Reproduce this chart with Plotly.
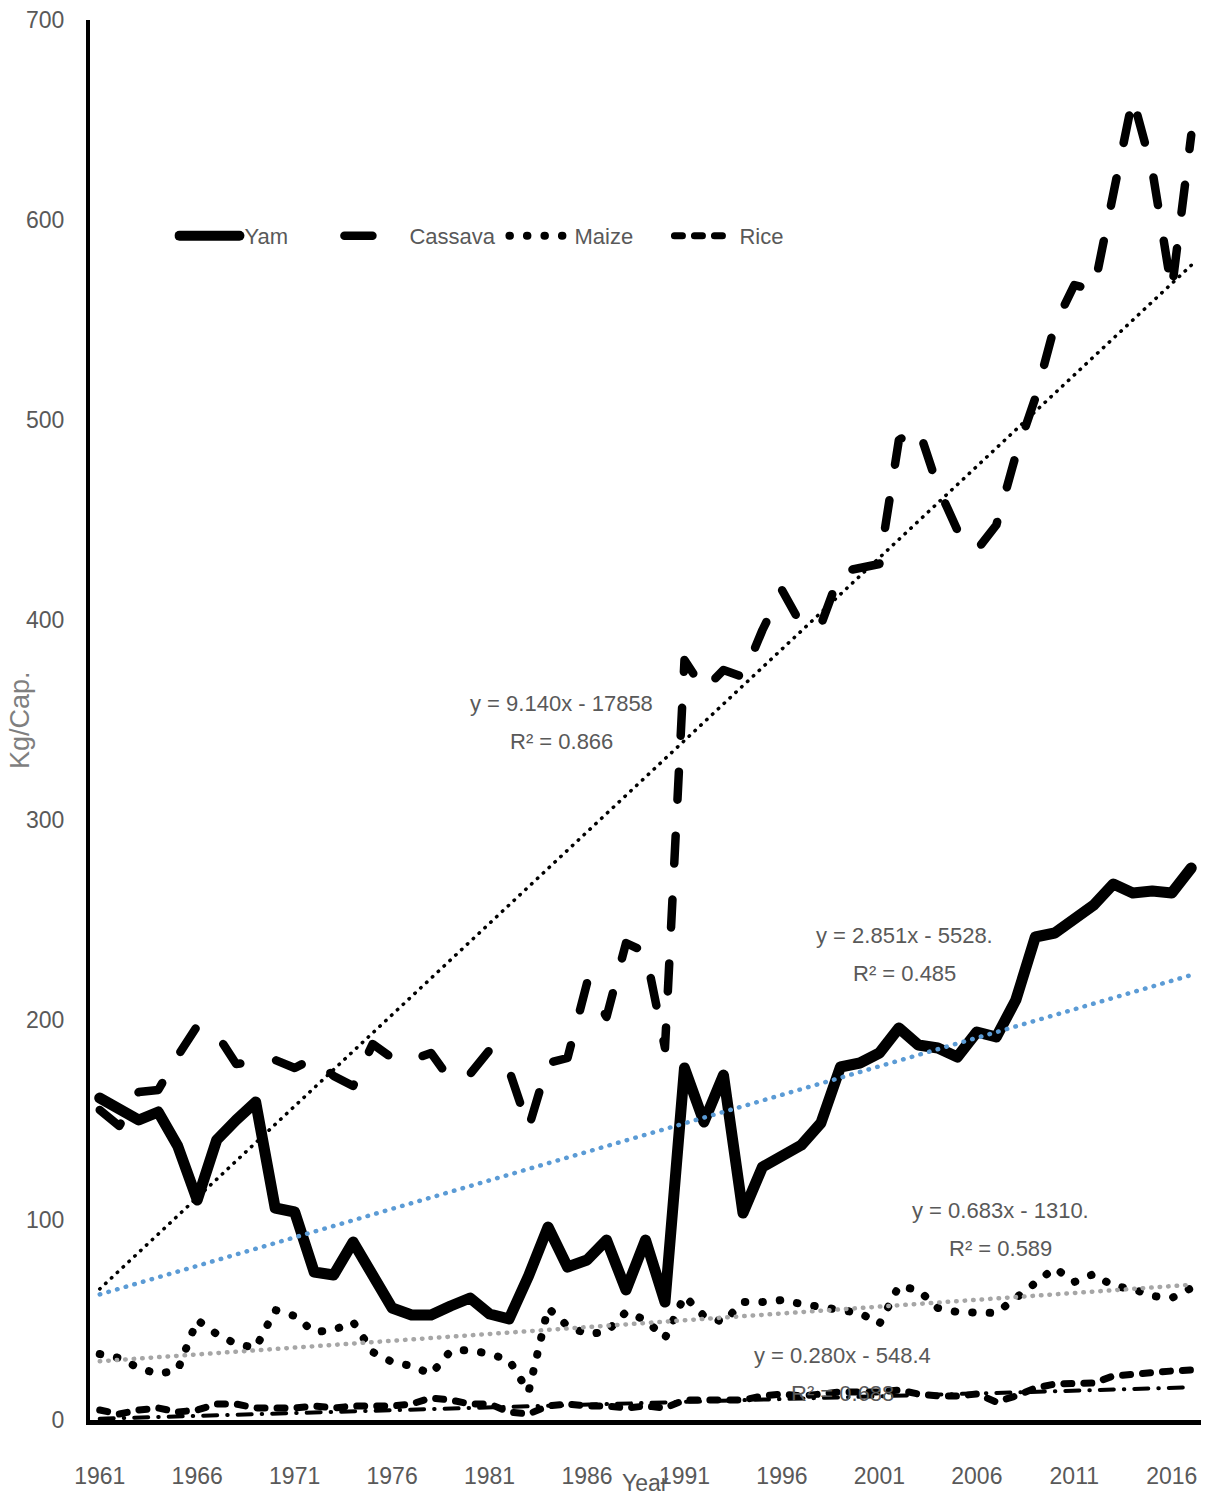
import plotly.graph_objects as go

# Per-capita production (kg/cap.) by year
years = list(range(1961, 2018))

yam = [161, 155, 150, 154, 137, 110, 140, 150, 159, 106,
       104, 74, 72.5, 89, 73, 56, 52.5, 52.5, 57, 61,
       53, 50.5, 72, 96.5, 76.5, 80, 90, 65, 90, 59,
       176, 149, 172.5, 103.5, 126.5, 132.5, 137.5, 148.5, 176.5, 178.5,
       183.5, 196, 187.5, 186, 181.5, 194, 191.5, 210, 241.5, 243.5,
       250, 257.5, 268, 263.5, 264.5, 263.5, 276]

cassava = [155, 147, 164, 165, 182, 197, 193, 178, 179, 180,
           176, 181, 172, 167, 188, 181, 180, 183.5, 170, 173,
           185, 175, 146, 178.5, 181, 218.5, 201.5, 238.5, 234, 186,
           380, 365, 375, 371.5, 395, 415, 397.5, 397.5, 424, 426,
           428, 490, 496, 466.5, 445, 435, 447.5, 482.5, 511, 547.5,
           567.5, 565, 612, 661, 625, 565, 642.5]

maize = [33, 31, 26, 23, 25, 50, 43, 38, 36, 55,
         52, 44, 45, 49, 34, 29, 27, 23, 34.5, 35,
         33, 30, 14, 56, 47, 43, 44, 54, 50, 41,
         62, 52, 49, 59, 59, 60, 58, 56.5, 55, 53.5,
         48, 67, 65, 56, 54, 53.5, 53.5, 61, 68, 76,
         69, 73, 67, 65.5, 62, 61, 66]

rice = [5, 3, 5, 6, 4, 5, 8, 8, 6, 6,
        6, 7, 6, 7, 7, 7, 8, 11, 10, 8,
        8, 4, 3, 7, 8, 7, 7, 6, 7, 6,
        10, 10, 10, 10, 12, 13, 12, 13, 14, 14,
        14, 15, 13, 12, 12, 13, 9, 12, 16, 18,
        18, 18.5, 22, 23, 23.5, 24.5, 25]

# Linear trend coefficients (y = slope * year + intercept) and fit quality
trend_names = ["Cassava", "Yam", "Maize", "Rice"]
trend_slopes = [9.140, 2.851, 0.683, 0.280]
trend_intercepts = [-17858, -5528, -1310, -548.4]
trend_labels = ["y = 9.140x - 17858", "y = 2.851x - 5528.",
                "y = 0.683x - 1310.", "y = 0.280x - 548.4"]
trend_r2_labels = ["R² = 0.866", "R² = 0.485", "R² = 0.589", "R² = 0.688"]
# label anchor (year, value) for each equation block
label_years = [1984.7, 2002.3, 2007.2, 1999.1]
label_values = [349, 233, 95.5, 23]

y_ticks = [0, 100, 200, 300, 400, 500, 600, 700]
x_ticks = list(range(1961, 2017, 5))

FONT = "Liberation Sans Narrow, Arial Narrow, Liberation Sans, sans-serif"
GREY = "#595959"

fig = go.Figure()

fig.add_trace(go.Scatter(x=years, y=yam, name="Yam", mode="lines",
                         line=dict(color="black", width=11)))
fig.add_trace(go.Scatter(x=years, y=cassava, name="Cassava", mode="lines",
                         line=dict(color="black", width=8.5, dash="28px,36px")))
fig.add_trace(go.Scatter(x=years, y=maize, name="Maize", mode="lines",
                         line=dict(color="black", width=8, dash="0.5px,17px")))
fig.add_trace(go.Scatter(x=years, y=rice, name="Rice", mode="lines",
                         line=dict(color="black", width=7, dash="8px,12px")))

trend_styles = [
    dict(color="black", width=3.5, dash="0.5px,7.5px"),
    dict(color="#5B9BD5", width=4.5, dash="0.5px,8.5px"),
    dict(color="#A6A6A6", width=4.5, dash="0.5px,8px"),
    dict(color="black", width=4, dash="14px,10px,0.5px,10px"),
]
x_span = [years[0], years[-1]]
for name, m, b, style in zip(trend_names, trend_slopes, trend_intercepts, trend_styles):
    fig.add_trace(go.Scatter(x=x_span, y=[m * x + b for x in x_span],
                             mode="lines", line=style, showlegend=False,
                             hoverinfo="skip", name=name + " trend"))

for eq, r2, lx, ly in zip(trend_labels, trend_r2_labels, label_years, label_values):
    fig.add_annotation(x=lx, y=ly, text=eq, showarrow=False, yshift=19,
                       font=dict(family=FONT, size=22, color=GREY))
    fig.add_annotation(x=lx, y=ly, text=r2, showarrow=False, yshift=-19,
                       font=dict(family=FONT, size=22, color=GREY))

# axis titles
fig.add_annotation(x=0.5, xref="paper", y=0, yref="paper", yshift=-63,
                   yanchor="middle", text="Year", showarrow=False,
                   font=dict(family=FONT, size=23, color=GREY))
fig.add_annotation(x=0, xref="paper", y=0.5, yref="paper", xshift=-70,
                   xanchor="center", yanchor="middle", textangle=-90,
                   text="Kg/Cap.", showarrow=False,
                   font=dict(family="Liberation Sans, Arial, sans-serif",
                             size=27, color="#7F7F7F"))

fig.update_layout(
    width=1209, height=1496,
    margin=dict(l=90, r=8, t=20, b=76),
    paper_bgcolor="white", plot_bgcolor="white",
    showlegend=True,
    legend=dict(orientation="h", x=0.076, y=0.8457, xanchor="left", yanchor="middle",
                font=dict(family=FONT, size=22, color=GREY),
                bgcolor="rgba(0,0,0,0)", itemwidth=60,
                entrywidth=90, entrywidthmode="pixels"),
    xaxis=dict(range=[1960.5, 2017.5], tickvals=x_ticks, showgrid=False,
               zeroline=False, showline=True, linecolor="black", linewidth=5,
               ticks="", ticklabelstandoff=31, automargin=False,
               tickfont=dict(family=FONT, size=23, color=GREY)),
    yaxis=dict(range=[0, 700], tickvals=y_ticks, showgrid=False,
               zeroline=False, showline=True, linecolor="black", linewidth=4,
               ticks="", ticklabelstandoff=17, automargin=False,
               tickfont=dict(family=FONT, size=23, color=GREY)),
)

round_caps = """
var gd = document.getElementById('{plot_id}');
gd.querySelectorAll('path.js-line').forEach(function (p) {
  p.style.strokeLinecap = 'round';
  p.style.strokeLinejoin = 'round';
});
"""

fig.write_html("out.html", post_script=round_caps)
